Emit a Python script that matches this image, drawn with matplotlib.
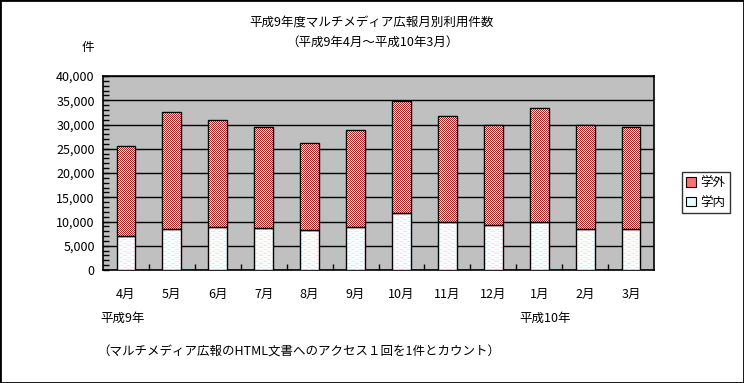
import numpy as np
import matplotlib
matplotlib.use('Agg')
import matplotlib.pyplot as plt
from matplotlib.patches import Patch, Rectangle
from matplotlib.ticker import MultipleLocator, FuncFormatter

months = ['4月', '5月', '6月', '7月', '8月', '9月', '10月', '11月', '12月', '1月', '2月', '3月']
gakunai = [7000, 8400, 8800, 8600, 8200, 8800, 11700, 10000, 9200, 10000, 8400, 8400]
gakugai = [18500, 24100, 22100, 20800, 17900, 20000, 23100, 21700, 20800, 23300, 21400, 21000]

plt.rcParams['font.family'] = ['Noto Sans CJK JP', 'DejaVu Sans']
plt.rcParams['font.size'] = 9

W, H = 744, 383
fig = plt.figure(figsize=(W / 100, H / 100), dpi=100)
pos = [103 / W, 113 / H, 551 / W, 194 / H]
ax = fig.add_axes(pos)
ax.set_facecolor('#c0c0c0')

x = np.arange(len(months))
bw = 0.41
ax.set_xlim(-0.5, len(months) - 0.5)
ax.set_ylim(0, 40000)

# bars used as fill shapes (the fill is a pixel texture below)
inner = ax.bar(x, gakunai, bw, facecolor='none', edgecolor='none', zorder=3)
outer = ax.bar(x, gakugai, bw, bottom=gakunai, facecolor='none', edgecolor='none', zorder=3)

# overlay axes for bar outlines, drawn above the textures
ax2 = fig.add_axes(pos, sharex=ax, sharey=ax, zorder=2)
ax2.patch.set_visible(False)
ax2.axis('off')
ax2.bar(x, gakunai, bw, facecolor='none', edgecolor='black', lw=1)
ax2.bar(x, gakugai, bw, bottom=gakunai, facecolor='none', edgecolor='black', lw=1)

# pixel patterns: red/white checker, pale cyan dashes (1:1 pixels)
ph, pw = 194, 551
ii, jj = np.mgrid[0:ph, 0:pw]
checker = np.ones((ph, pw, 3))
checker[(ii + jj) % 2 == 0] = (1.0, 0.0, 0.0)
dash = np.ones((ph, pw, 3))
m = ((ii % 4 == 0) & (jj % 8 < 4)) | ((ii % 4 == 2) & (jj % 8 >= 4))
dash[m] = (0.72, 1.0, 1.0)

for bars, tex in ((inner, dash), (outer, checker)):
    for b in bars:
        im = fig.figimage(tex, xo=103, yo=113, origin='lower', zorder=1)
        im.set_clip_path(b)

ax.yaxis.grid(True, color='black', lw=1)
ax.set_axisbelow(True)
ax.yaxis.set_major_locator(MultipleLocator(5000))
ax.yaxis.set_minor_locator(MultipleLocator(1000))
ax.yaxis.set_major_formatter(FuncFormatter(lambda v, p: f'{int(v):,}'))
ax.tick_params(axis='y', which='both', direction='in', length=4, width=1, pad=6, labelsize=9)

ax.set_xticks(x, months)
ax.set_xticks(x[:-1] + 0.5, minor=True)
ax.tick_params(axis='x', which='major', length=0, pad=13, labelsize=9)
ax.tick_params(axis='x', which='minor', direction='in', length=4, width=1)
for s in ax.spines.values():
    s.set_linewidth(1.2)

fig.text(0.5, 1 - 22 / H, '平成9年度マルチメディア広報月別利用件数', ha='center', va='center', fontsize=9)
fig.text(0.5, 1 - 42 / H, '（平成9年4月～平成10年3月）', ha='center', va='center', fontsize=9)
fig.text(88 / W, 1 - 47 / H, '件', ha='center', va='center', fontsize=9)
fig.text(100 / W, 1 - 318 / H, '平成9年', ha='left', va='center', fontsize=9)
fig.text(519 / W, 1 - 318 / H, '平成10年', ha='left', va='center', fontsize=9)
fig.text(97 / W, 1 - 352 / H, '（マルチメディア広報のHTML文書へのアクセス１回を1件とカウント）',
         ha='left', va='center', fontsize=9)

handles = [Patch(facecolor='#ff7070', edgecolor='black', lw=0.8, label='学外'),
           Patch(facecolor='#e4ffff', edgecolor='black', lw=0.8, label='学内')]
leg = fig.legend(handles=handles, loc='upper left', bbox_to_anchor=(682 / W, 1 - 172 / H),
                 bbox_transform=fig.transFigure, frameon=True, fancybox=False,
                 borderpad=0.35, handlelength=0.8, handleheight=0.8, handletextpad=0.3,
                 labelspacing=0.5, borderaxespad=0, fontsize=9)
leg.get_frame().set_edgecolor('black')
leg.get_frame().set_linewidth(1)

fig.patches.append(Rectangle((0, 0), 1, 1, transform=fig.transFigure, fill=False,
                             edgecolor='black', lw=2))

fig.savefig('out.png', dpi=100)
